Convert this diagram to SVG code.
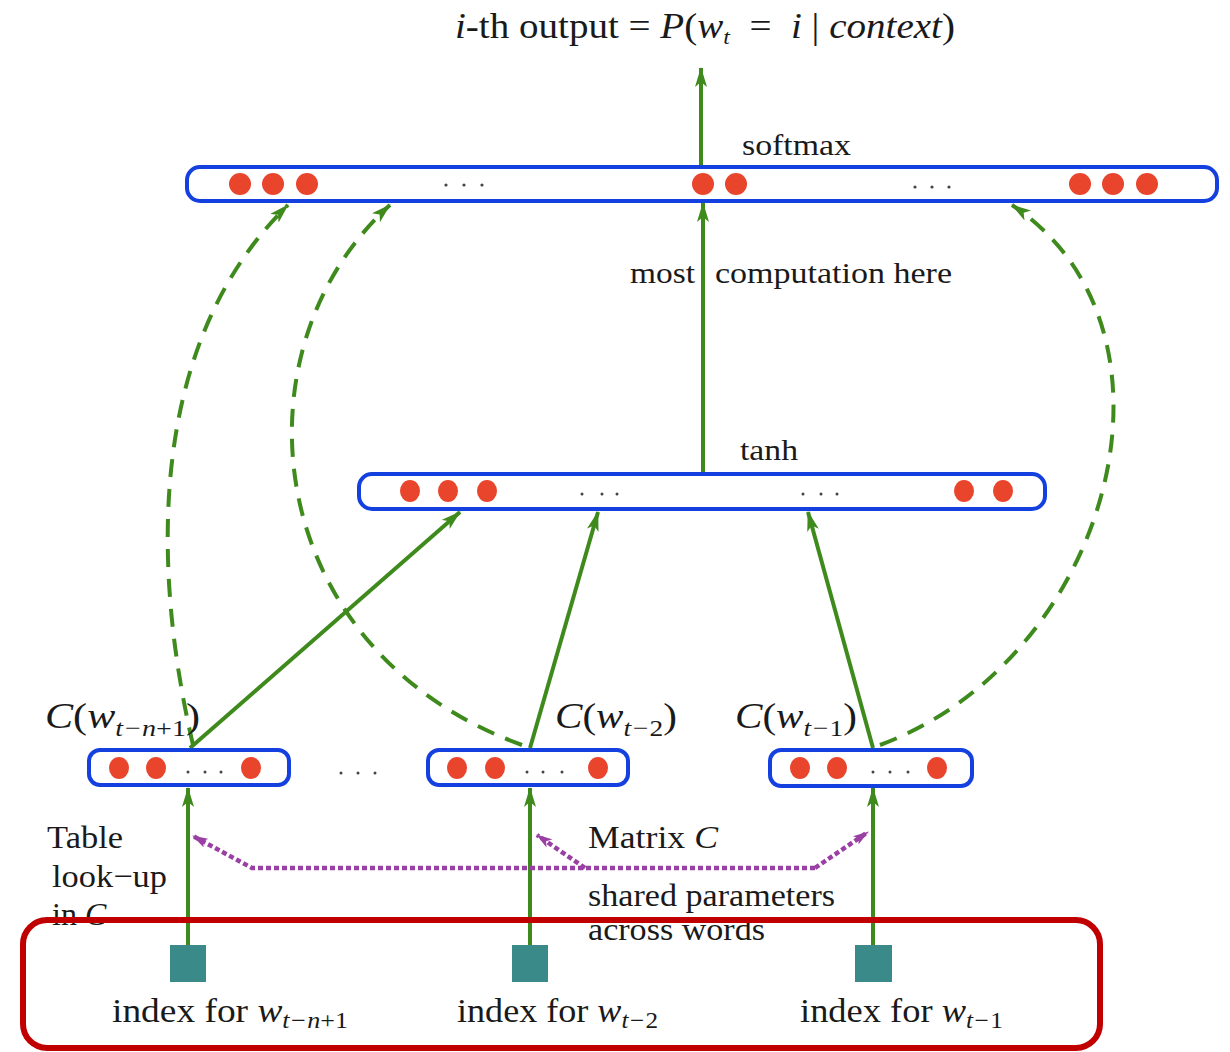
<svg xmlns="http://www.w3.org/2000/svg" width="1230" height="1052" viewBox="0 0 1230 1052">
<style>
  .t { font-family: "Liberation Serif", "Times New Roman", serif; fill: #1a1a1a; }
  .i { font-style: italic; }
  .n { font-style: normal; }
  .bar { fill: #ffffff; stroke: #1440e0; stroke-width: 4; }
  .dot { fill: #e8452c; }
  .ell { fill: #444; }
  .g { stroke: #3f8a1c; stroke-width: 4; fill: none; }
  .gd { stroke: #3f8a1c; stroke-width: 4; fill: none; stroke-dasharray: 18 12; }
  .p { stroke: #9a3fa3; stroke-width: 4.5; fill: none; stroke-dasharray: 5 3; }
  .sq { fill: #3a8a8a; }
</style>
<defs>
  <marker id="ag" markerUnits="userSpaceOnUse" viewBox="0 0 20 12" refX="19" refY="6" markerWidth="20" markerHeight="12" orient="auto">
    <path d="M0,0 L20,6 L0,12 L5,6 z" fill="#3f8a1c"/>
  </marker>
  <marker id="ap" markerUnits="userSpaceOnUse" viewBox="0 0 16 10" refX="15" refY="5" markerWidth="16" markerHeight="10" orient="auto">
    <path d="M0,0 L16,5 L0,10 L4,5 z" fill="#9a3fa3"/>
  </marker>
</defs>
<rect width="1230" height="1052" fill="#ffffff"/>

<!-- title -->
<text class="t" x="455" y="38" font-size="36" textLength="500" lengthAdjust="spacingAndGlyphs"><tspan class="i">i</tspan>-th output = <tspan class="i">P</tspan>(<tspan class="i">w</tspan><tspan class="i" font-size="22" dy="6">t</tspan><tspan dy="-6">&#160;&#160;=&#160;&#160;</tspan><tspan class="i">i</tspan> | <tspan class="i">context</tspan>)</text>

<g id="connectors">
  <line class="g" x1="701" y1="167" x2="701" y2="68" marker-end="url(#ag)"/>
  <line class="g" x1="703" y1="474" x2="703" y2="203" marker-end="url(#ag)"/>
  <line class="g" x1="190" y1="748" x2="460" y2="512" marker-end="url(#ag)"/>
  <line class="g" x1="530" y1="748" x2="598" y2="512" marker-end="url(#ag)"/>
  <line class="g" x1="873" y1="748" x2="808" y2="512" marker-end="url(#ag)"/>
  <line class="g" x1="188" y1="945" x2="188" y2="788" marker-end="url(#ag)"/>
  <line class="g" x1="530" y1="945" x2="530" y2="788" marker-end="url(#ag)"/>
  <line class="g" x1="873" y1="945" x2="873" y2="788" marker-end="url(#ag)"/>
  <path class="gd" d="M193,745 C150,560 150,340 288,205" marker-end="url(#ag)"/>
  <path class="gd" d="M522,745 C260,650 230,350 390,205" marker-end="url(#ag)"/>
  <path class="gd" d="M880,745 C1110,660 1200,330 1012,205" marker-end="url(#ag)"/>
  <path class="p" d="M815,868 L252,868 L193,836" marker-end="url(#ap)"/>
  <path class="p" d="M815,868 L868,832" marker-end="url(#ap)"/>
  <path class="p" d="M585,868 L537,835" marker-end="url(#ap)"/>
</g>

<g id="softmax">
  <rect class="bar" x="187" y="167" width="1030" height="34" rx="13"/>
  <circle class="dot" cx="240" cy="184" r="11"/>
  <circle class="dot" cx="273" cy="184" r="11"/>
  <circle class="dot" cx="307" cy="184" r="11"/>
  <circle class="dot" cx="703" cy="184" r="11"/>
  <circle class="dot" cx="736" cy="184" r="11"/>
  <circle class="dot" cx="1080" cy="184" r="11"/>
  <circle class="dot" cx="1113" cy="184" r="11"/>
  <circle class="dot" cx="1147" cy="184" r="11"/>
  <circle class="ell" cx="446" cy="185" r="1.6"/><circle class="ell" cx="464" cy="185" r="1.6"/><circle class="ell" cx="482" cy="185" r="1.6"/>
  <circle class="ell" cx="915" cy="187" r="1.6"/><circle class="ell" cx="932" cy="187" r="1.6"/><circle class="ell" cx="949" cy="187" r="1.6"/>
  <text class="t" x="742" y="155" font-size="30" textLength="109" lengthAdjust="spacingAndGlyphs">softmax</text>
</g>

<text class="t" x="630" y="283" font-size="29" textLength="65" lengthAdjust="spacingAndGlyphs">most</text>
<text class="t" x="715" y="283" font-size="29" textLength="237" lengthAdjust="spacingAndGlyphs">computation here</text>

<g id="tanh">
  <rect class="bar" x="359" y="474" width="686" height="35" rx="13"/>
  <ellipse class="dot" cx="410" cy="491" rx="10" ry="11"/>
  <ellipse class="dot" cx="448" cy="491" rx="10" ry="11"/>
  <ellipse class="dot" cx="487" cy="491" rx="10" ry="11"/>
  <ellipse class="dot" cx="964" cy="491" rx="10" ry="11"/>
  <ellipse class="dot" cx="1003" cy="491" rx="10" ry="11"/>
  <circle class="ell" cx="582" cy="494" r="1.5"/><circle class="ell" cx="602" cy="494" r="1.5"/><circle class="ell" cx="617" cy="494" r="1.5"/>
  <circle class="ell" cx="803" cy="494" r="1.5"/><circle class="ell" cx="821" cy="494" r="1.5"/><circle class="ell" cx="837" cy="494" r="1.5"/>
  <text class="t" x="740" y="460" font-size="30" textLength="58" lengthAdjust="spacingAndGlyphs">tanh</text>
</g>

<g id="c1">
  <rect class="bar" x="89" y="750" width="200" height="35" rx="11"/>
  <ellipse class="dot" cx="119" cy="768" rx="10" ry="11"/>
  <ellipse class="dot" cx="156" cy="768" rx="10" ry="11"/>
  <ellipse class="dot" cx="251" cy="768" rx="10" ry="11"/>
  <circle class="ell" cx="188" cy="772" r="1.5"/><circle class="ell" cx="205" cy="772" r="1.5"/><circle class="ell" cx="221" cy="772" r="1.5"/>
  <text class="t" x="45" y="728" font-size="36" textLength="155" lengthAdjust="spacingAndGlyphs"><tspan class="i">C</tspan>(<tspan class="i">w</tspan><tspan class="i" font-size="24" dy="8">t−n<tspan class="n">+1</tspan></tspan><tspan dy="-8">)</tspan></text>
</g>

<g id="between">
  <circle class="ell" cx="341" cy="773" r="1.5"/><circle class="ell" cx="358" cy="773" r="1.5"/><circle class="ell" cx="375" cy="773" r="1.5"/>
</g>

<g id="c2">
  <rect class="bar" x="428" y="750" width="200" height="35" rx="11"/>
  <ellipse class="dot" cx="457" cy="768" rx="10" ry="11"/>
  <ellipse class="dot" cx="495" cy="768" rx="10" ry="11"/>
  <ellipse class="dot" cx="598" cy="768" rx="10" ry="11"/>
  <circle class="ell" cx="527" cy="772" r="1.5"/><circle class="ell" cx="543" cy="772" r="1.5"/><circle class="ell" cx="562" cy="772" r="1.5"/>
  <text class="t" x="555" y="728" font-size="36" textLength="122" lengthAdjust="spacingAndGlyphs"><tspan class="i">C</tspan>(<tspan class="i">w</tspan><tspan class="i" font-size="24" dy="8">t−<tspan class="n">2</tspan></tspan><tspan dy="-8">)</tspan></text>
</g>

<g id="c3">
  <rect class="bar" x="770" y="750" width="202" height="36" rx="11"/>
  <ellipse class="dot" cx="800" cy="768" rx="10" ry="11"/>
  <ellipse class="dot" cx="837" cy="768" rx="10" ry="11"/>
  <ellipse class="dot" cx="937" cy="768" rx="10" ry="11"/>
  <circle class="ell" cx="873" cy="772" r="1.5"/><circle class="ell" cx="890" cy="772" r="1.5"/><circle class="ell" cx="908" cy="772" r="1.5"/>
  <text class="t" x="735" y="728" font-size="36" textLength="122" lengthAdjust="spacingAndGlyphs"><tspan class="i">C</tspan>(<tspan class="i">w</tspan><tspan class="i" font-size="24" dy="8">t−<tspan class="n">1</tspan></tspan><tspan dy="-8">)</tspan></text>
</g>

<g id="labels">
  <text class="t" x="47" y="848" font-size="32" textLength="76" lengthAdjust="spacingAndGlyphs">Table</text>
  <text class="t" x="52" y="887" font-size="32" textLength="115" lengthAdjust="spacingAndGlyphs">look−up</text>
  <text class="t" x="52" y="925" font-size="32">in <tspan class="i">C</tspan></text>
  <text class="t" x="588" y="848" font-size="32" textLength="130" lengthAdjust="spacingAndGlyphs">Matrix <tspan class="i">C</tspan></text>
  <text class="t" x="588" y="906" font-size="32" textLength="247" lengthAdjust="spacingAndGlyphs">shared parameters</text>
  <text class="t" x="588" y="940" font-size="32" textLength="177" lengthAdjust="spacingAndGlyphs">across words</text>
</g>

<g id="idx1">
  <rect class="sq" x="170" y="945" width="36" height="37"/>
  <text class="t" x="112" y="1022" font-size="33" textLength="236" lengthAdjust="spacingAndGlyphs">index for <tspan class="i">w</tspan><tspan class="i" font-size="23" dy="6">t−n<tspan class="n">+1</tspan></tspan></text>
</g>
<g id="idx2">
  <rect class="sq" x="512" y="945" width="36" height="37"/>
  <text class="t" x="457" y="1022" font-size="33" textLength="201" lengthAdjust="spacingAndGlyphs">index for <tspan class="i">w</tspan><tspan class="i" font-size="23" dy="6">t−<tspan class="n">2</tspan></tspan></text>
</g>
<g id="idx3">
  <rect class="sq" x="855" y="945" width="37" height="37"/>
  <text class="t" x="800" y="1022" font-size="33" textLength="203" lengthAdjust="spacingAndGlyphs">index for <tspan class="i">w</tspan><tspan class="i" font-size="23" dy="6">t−<tspan class="n">1</tspan></tspan></text>
</g>

<g id="highlight">
  <rect x="23" y="920" width="1077" height="128" rx="24" fill="none" stroke="#c00000" stroke-width="6"/>
</g>
</svg>
